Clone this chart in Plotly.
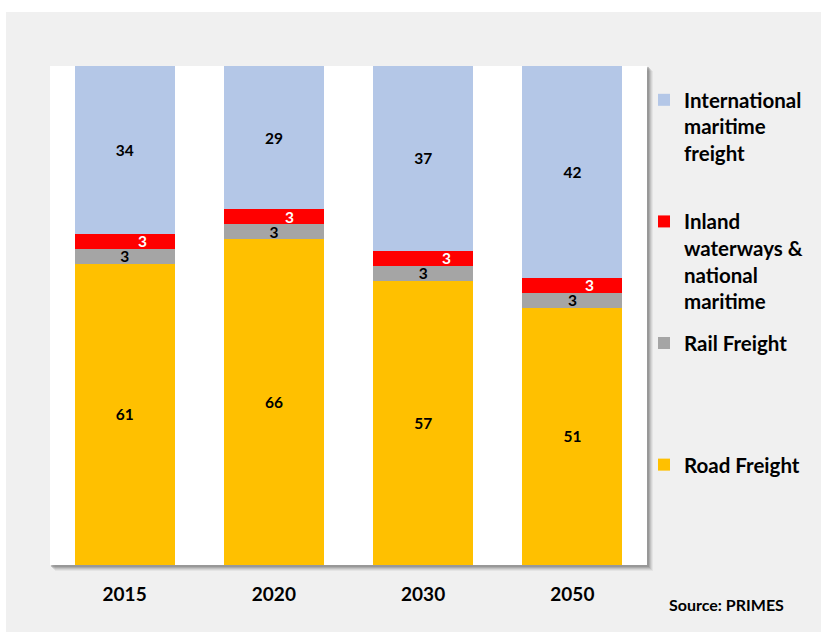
import plotly.graph_objects as go

# Freight transport activity shares by mode (%)
years = ["2015", "2020", "2030", "2050"]
road_freight = [61, 66, 57, 51]
rail_freight = [3, 3, 3, 3]
inland_waterways = [3, 3, 3, 3]
intl_maritime = [34, 29, 37, 42]

series = [
    ("Road Freight", road_freight, "#ffc000", "black"),
    ("Rail Freight", rail_freight, "#a5a5a5", "black"),
    ("Inland<br>waterways &<br>national<br>maritime", inland_waterways, "#ff0000", None),
    ("International<br>maritime<br>freight", intl_maritime, "#b4c7e7", "black"),
]

FONT = "Lato"
W, H = 821, 632
L, R, T, B = 50, 174, 66, 67
PW, PH = W - L - R, H - T - B


def px_x(p):
    return (p - L) / PW


def px_y(p):
    return 1 - (p - T) / PH


def pad_lines(label, n=4):
    lines = label.split("<br>")
    lines += ["\u00a0"] * (n - len(lines))
    return "<br>".join(lines)


fig = go.Figure()
for i, (name, vals, color, tcolor) in enumerate(series):
    fig.add_trace(go.Bar(
        x=years, y=vals, name=pad_lines(name),
        marker=dict(color=color, line=dict(width=0)),
        text=vals if tcolor else None,
        texttemplate="%{text}" if tcolor else None,
        textposition="inside" if tcolor else "none",
        insidetextanchor="middle",
        textangle=0,
        constraintext="none",
        textfont=dict(family=FONT, size=15.5, color=tcolor or "white", weight="bold"),
        legendgroup=str(i),
        legendrank=len(series) - i,
        hoverinfo="skip",
    ))

# White value labels on the inland waterways segment, nudged to the right
red_label_shift = [18, 16, 23, 17]
for k, yr in enumerate(years):
    total = road_freight[k] + rail_freight[k] + inland_waterways[k] + intl_maritime[k]
    mid = (road_freight[k] + rail_freight[k] + inland_waterways[k] / 2) / total * 100
    fig.add_annotation(
        x=k, y=mid, xref="x", yref="y", text=str(inland_waterways[k]),
        showarrow=False, xshift=red_label_shift[k],
        font=dict(family=FONT, size=15.5, color="white", weight="bold"),
    )

fig.add_annotation(
    x=px_x(667), y=px_y(604), xref="paper", yref="paper",
    xanchor="left", yanchor="middle", text="Source: PRIMES", showarrow=False,
    font=dict(family=FONT, size=16, color="black", weight="bold"),
)

shapes = [
    # grey chart-area background
    dict(type="rect", xref="paper", yref="paper", layer="below",
         x0=px_x(6), x1=px_x(W + 20), y0=px_y(H + 20), y1=px_y(12),
         fillcolor="#f0f0f0", line=dict(width=0)),
]
# soft drop shadow under the plot panel
for off, op in [(6, 0.10), (5, 0.15), (4, 0.22), (3, 0.32), (2, 0.45)]:
    shapes.append(dict(type="rect", xref="paper", yref="paper", layer="below",
                       x0=px_x(L + off - 1), x1=px_x(L + PW + off),
                       y0=px_y(T + PH + off), y1=px_y(T + off - 1),
                       fillcolor="#808080", opacity=op, line=dict(width=0)))
shapes.append(dict(type="rect", xref="paper", yref="paper", layer="below",
                   x0=0, x1=1, y0=0, y1=1, fillcolor="white", line=dict(width=0)))

fig.update_layout(
    width=W, height=H,
    margin=dict(l=L, r=R, t=T, b=B, pad=0),
    paper_bgcolor="white", plot_bgcolor="white",
    barmode="stack", barnorm="percent", bargap=0.33,
    uniformtext=dict(mode="show", minsize=15),
    shapes=shapes,
    showlegend=True,
    legend=dict(
        x=px_x(644), xanchor="left", y=px_y(80), yanchor="top",
        traceorder="grouped", tracegroupgap=12, valign="top",
        bgcolor="rgba(0,0,0,0)",
        font=dict(family=FONT, size=20.5, color="black", weight="bold"),
    ),
    xaxis=dict(
        type="category", range=[-0.5, len(years) - 0.5],
        showgrid=False, zeroline=False, showline=False, ticks="",
        tickfont=dict(family=FONT, size=19, color="black", weight="bold"),
        ticklabelstandoff=16, fixedrange=True,
    ),
    yaxis=dict(range=[0, 100], visible=False, fixedrange=True),
)

fig.write_html("out.html")
